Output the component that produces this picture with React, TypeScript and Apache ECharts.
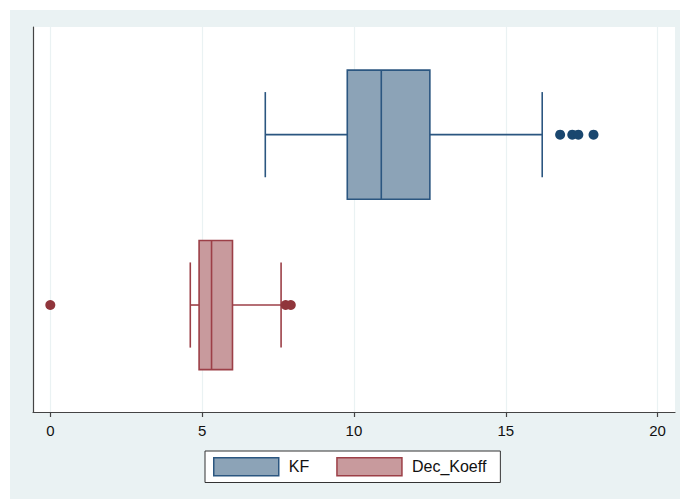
import React, { useEffect, useRef } from "react";
import * as echarts from "echarts";

// ---- data ----
const categories = ["KF", "Dec_Koeff"];
const whiskerLow = [7.08, 4.61];
const quartile1 = [9.78, 4.9];
const medians = [10.9, 5.31];
const quartile3 = [12.5, 6.0];
const whiskerHigh = [16.2, 7.6];
const kfOutliers = [16.79, 17.19, 17.39, 17.89];
const decOutliers = [0, 7.75, 7.92];
const xTickValues = [0, 5, 10, 15, 20];

const lineColors = ["#2b5680", "#9c3f47"];
const fillColors = ["#8ca3b7", "#c89a9d"];
const dotColors = ["#1a476f", "#90353b"];
const FONT = "'Liberation Sans', Arial, Helvetica, sans-serif";

export default function App() {
  const ref = useRef<HTMLDivElement>(null);

  useEffect(() => {
    document.body.style.margin = "0";
    document.body.style.overflow = "hidden";
    if (!ref.current) return;
    const chart = echarts.init(ref.current, null, { renderer: "svg" });

    const pos = (i: number) => categories.length - 1 - i;

    const boxSeries = categories.map((name, i) => ({
      name,
      type: "custom",
      itemStyle: { color: fillColors[i], borderColor: lineColors[i], borderWidth: 1.5 },
      encode: { x: [1, 2, 3, 4, 5], y: 0 },
      data: [[pos(i), whiskerLow[i], quartile1[i], medians[i], quartile3[i], whiskerHigh[i]]],
      renderItem: (params: any, api: any) => {
        const y = api.value(0);
        const lo = api.coord([api.value(1), y]);
        const q1 = api.coord([api.value(2), y]);
        const md = api.coord([api.value(3), y]);
        const q3 = api.coord([api.value(4), y]);
        const hi = api.coord([api.value(5), y]);
        const unit = api.size([0, 1])[1];
        const bh = unit * 0.379;
        const ch = unit * 0.25;
        const cy = lo[1];
        const st = { stroke: lineColors[i], lineWidth: 1.6 };
        return {
          type: "group",
          children: [
            { type: "line", shape: { x1: lo[0], y1: cy, x2: q1[0], y2: cy }, style: st },
            { type: "line", shape: { x1: q3[0], y1: cy, x2: hi[0], y2: cy }, style: st },
            { type: "line", shape: { x1: lo[0], y1: cy - ch, x2: lo[0], y2: cy + ch }, style: st },
            { type: "line", shape: { x1: hi[0], y1: cy - ch, x2: hi[0], y2: cy + ch }, style: st },
            {
              type: "rect",
              shape: { x: q1[0], y: cy - bh, width: q3[0] - q1[0], height: 2 * bh },
              style: { fill: fillColors[i], stroke: lineColors[i], lineWidth: 1.6 },
            },
            { type: "line", shape: { x1: md[0], y1: cy - bh, x2: md[0], y2: cy + bh }, style: st },
          ],
        };
      },
    }));

    const outlierLists = [kfOutliers, decOutliers];
    const outlierSeries = categories.map((name, i) => ({
      name: name + " outliers",
      type: "scatter",
      symbol: "circle",
      symbolSize: 10,
      itemStyle: { color: dotColors[i], opacity: 1 },
      data: outlierLists[i].map((v) => [v, pos(i)]),
      z: 3,
    }));

    chart.setOption({
      animation: false,
      backgroundColor: "#ffffff",
      graphic: [
        {
          type: "rect",
          z: -10,
          silent: true,
          shape: { x: 10, y: 10, width: 670, height: 489 },
          style: { fill: "#eaf2f3" },
        },
      ],
      grid: {
        left: 33,
        top: 27,
        right: 5,
        bottom: 87,
        show: true,
        backgroundColor: "#ffffff",
        borderWidth: 0,
      },
      xAxis: {
        type: "value",
        min: -0.57,
        max: 20.573,
        axisLine: { show: true, onZero: false, lineStyle: { color: "#444", width: 1.2 } },
        axisTick: { show: true, length: 5, customValues: xTickValues, lineStyle: { color: "#444", width: 1.2 } },
        axisLabel: {
          customValues: xTickValues,
          fontSize: 15,
          color: "#111",
          fontFamily: FONT,
          margin: 11,
        },
        splitLine: { show: true, lineStyle: { color: "#eaf2f3", width: 1.2 } },
      },
      yAxis: {
        type: "value",
        min: -0.628,
        max: 1.632,
        axisLine: { show: true, onZero: false, lineStyle: { color: "#444", width: 1.2 } },
        axisTick: { show: false },
        axisLabel: { show: false },
        splitLine: { show: false },
      },
      legend: {
        left: 205,
        top: 451,
        orient: "horizontal",
        itemWidth: 65,
        itemHeight: 18,
        itemGap: 27,
        padding: [6, 14, 6, 8],
        backgroundColor: "#ffffff",
        borderColor: "#333",
        borderWidth: 1,
        borderRadius: 0,
        textStyle: { fontSize: 16, color: "#111", fontFamily: FONT, padding: [0, 0, 0, 5] },
        data: categories.map((name, i) => ({
          name,
          icon: "rect",
          itemStyle: { color: fillColors[i], borderColor: lineColors[i], borderWidth: 1.5 },
        })),
      },
      series: [...boxSeries, ...outlierSeries],
    });

    return () => chart.dispose();
  }, []);

  return <div ref={ref} style={{ width: 680, height: 499 }} />;
}
